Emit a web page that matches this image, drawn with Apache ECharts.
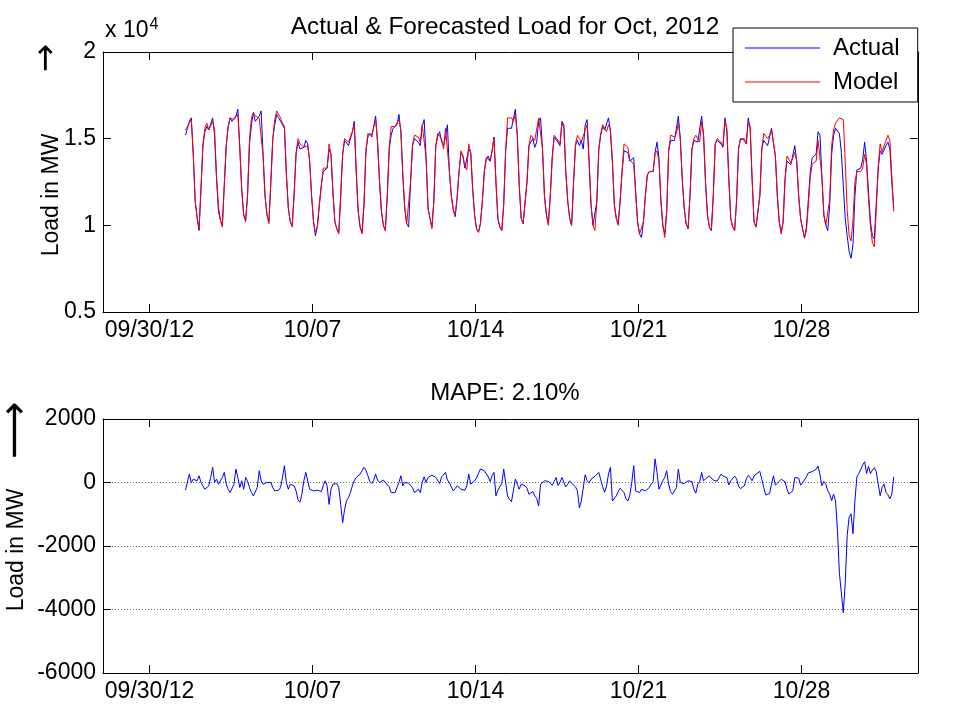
<!DOCTYPE html>
<html>
<head>
<meta charset="utf-8">
<script src="https://cdn.jsdelivr.net/npm/echarts@6/dist/echarts.min.js"></script>
<style>
  html, body { margin: 0; padding: 0; background: #fff; }
  #chart { width: 957px; height: 716px; }
</style>
</head>
<body>
<div id="chart"></div>
<script>
// Two-hourly samples, first one at Oct 1 2012 13:00 (x in days since Sep 30 00:00)
const firstSampleDay = 1 + 13 / 24;
const stepDays = 2 / 24;

// Actual load, MW
const actualLoad = [
  15200, 15600, 16000, 16200, 14100, 11400,
  10400, 9700, 12100, 14600, 15400, 15700, 15500, 15600, 16200, 15200, 12700, 10800,
  10300, 10000, 12300, 14600, 15700, 16200, 16000, 15900, 16300, 16700, 14400, 12100,
  10600, 10300, 11700, 14700, 15800, 16500, 16000, 16100, 16300, 16600, 14100, 11700,
  10600, 10200, 12500, 15000, 15800, 16400, 16200, 16000, 15800, 15600, 12900, 11000,
  10200, 10000, 11800, 14100, 14800, 14400, 14300, 14500, 14900, 14700, 13700, 11700,
  10200, 9400, 10000, 11200, 12300, 13100, 13200, 13300, 14400, 14100, 11900, 10200,
  9800, 9600, 11700, 14100, 14900, 14800, 14600, 14500, 15400, 16000, 13100, 10800,
  9900, 9600, 11200, 14300, 15100, 15300, 15100, 15200, 16300, 14800, 12500, 10800,
  10000, 9700, 11700, 14400, 15200, 15600, 15600, 15800, 16400, 15400, 12900, 11000,
  10100, 9900, 12500, 14600, 15000, 14900, 14800, 14600, 15700, 16100, 13900, 11000,
  10400, 9900, 11400, 14600, 15100, 15400, 14800, 14600, 15100, 15800, 13100, 11700,
  10900, 10500, 11600, 13100, 14200, 14000, 13300, 13200, 14400, 14200, 12100, 10600,
  9800, 9600, 10100, 11400, 13100, 13800, 14000, 13700, 14300, 15100, 12500, 10400,
  9900, 9700, 11200, 14300, 15600, 15700, 15600, 15700, 16700, 15200, 12300, 10400,
  10100, 10000, 12500, 14600, 14800, 15000, 14500, 14800, 16000, 16200, 14400, 11700,
  10600, 10100, 11700, 13900, 15100, 15100, 14800, 14600, 16000, 15800, 13100, 11400,
  10400, 10000, 12500, 14600, 14900, 14600, 14900, 14400, 15800, 16100, 13700, 11200,
  10000, 9900, 11400, 14400, 15200, 15700, 15500, 15500, 16200, 15400, 13700, 11200,
  10400, 10100, 11400, 13100, 14300, 14400, 14200, 13700, 13600, 13900, 11900, 10200,
  9500, 9300, 10200, 11700, 12900, 13100, 13000, 13100, 14200, 14800, 13900, 11400,
  10000, 9500, 10800, 14300, 14900, 15000, 14900, 14800, 16300, 15000, 12700, 11000,
  10100, 9800, 11700, 14400, 14900, 15000, 14800, 14900, 16300, 15200, 12500, 10600,
  9900, 9700, 11700, 14700, 14900, 15000, 14700, 14500, 16200, 15400, 12700, 10400,
  9900, 9700, 11400, 14400, 15000, 15000, 14900, 14700, 16200, 15600, 12700, 10200,
  9900, 9800, 11700, 14400, 14900, 14900, 14600, 15100, 15600, 15500, 14000, 11700,
  10200, 9600, 10200, 12700, 13700, 13600, 13500, 13400, 14600, 13700, 11700, 10400,
  9800, 9300, 9900, 11500, 13100, 13900, 14000, 14100, 15400, 15200, 12700, 10600,
  10000, 9700, 11200, 14100, 15200, 15600, 15500, 15300, 14200, 12300, 10400, 9400,
  8500, 8100, 8900, 11700, 13200, 13300, 13300, 13800, 14800, 13700, 11900, 10200,
  9400, 9200, 11300, 13300, 14300, 14100, 14200, 14600, 14800, 14400, 12500, 11000
];

// Forecast model load, MW
const modelLoad = [
  15500, 15700, 15900, 16100, 14200, 11400,
  10500, 9800, 12100, 14700, 15600, 15900, 15500, 15500, 16000, 15500, 12800, 11100,
  10300, 9900, 12300, 14600, 15700, 16200, 16100, 16100, 16200, 16400, 14500, 12000,
  10600, 10200, 11800, 15000, 16200, 16500, 16300, 16200, 16200, 16300, 14000, 11700,
  10600, 10100, 12500, 15000, 16100, 16600, 16500, 16200, 15900, 15700, 13000, 11000,
  10200, 9900, 11800, 14200, 15000, 14700, 14600, 14500, 14500, 14600, 13700, 11700,
  10200, 9600, 9900, 11200, 12300, 13300, 13200, 13300, 14700, 14100, 11900, 10200,
  9800, 9500, 11700, 14100, 15000, 15100, 14800, 14700, 15400, 15800, 13100, 10800,
  9900, 9500, 11200, 14300, 15300, 15400, 15200, 15200, 16100, 14800, 12500, 10800,
  10000, 9700, 11700, 14500, 15700, 15800, 15700, 15800, 16100, 15500, 12900, 11000,
  10100, 10000, 12500, 14600, 15200, 15200, 15100, 14800, 15800, 15900, 13900, 11000,
  10400, 9800, 11400, 14600, 15300, 15400, 15000, 14400, 15600, 15700, 13100, 11700,
  10900, 10600, 11600, 13100, 14300, 14000, 13400, 13200, 14700, 14200, 12100, 10600,
  9800, 9600, 10100, 11400, 13100, 13900, 14000, 13700, 14300, 15000, 12500, 10400,
  9900, 9700, 11200, 14300, 16200, 16300, 16200, 16000, 16400, 15200, 12300, 10400,
  10100, 10000, 12500, 14600, 15200, 15300, 14900, 15000, 16200, 16300, 14400, 11700,
  10600, 10000, 11700, 13900, 15200, 15100, 14900, 14700, 15900, 15600, 13100, 11400,
  10400, 10000, 12500, 14700, 15200, 15000, 14800, 14800, 15500, 15800, 13700, 11200,
  10000, 9700, 11400, 14400, 15300, 15800, 15600, 15400, 15800, 15500, 13700, 11200,
  10400, 10000, 11400, 13100, 14700, 14700, 14500, 13800, 13900, 13500, 11900, 10200,
  9500, 9600, 10200, 11700, 12900, 13100, 13000, 13100, 14100, 14300, 13700, 11500,
  10000, 9300, 10800, 14300, 15200, 15300, 15100, 15300, 15900, 15000, 12700, 11000,
  10100, 9800, 11700, 14400, 15000, 15200, 15000, 14800, 16000, 15200, 12500, 10600,
  9900, 9700, 11700, 14700, 15000, 15100, 14800, 14600, 16000, 15600, 12700, 10400,
  9900, 9700, 11400, 14400, 15000, 15100, 15000, 14700, 15900, 15700, 12700, 10200,
  9900, 9900, 11700, 14400, 15300, 15400, 15000, 15200, 15500, 15500, 14000, 11700,
  10200, 9500, 10200, 12700, 14000, 13900, 13600, 13700, 14200, 13700, 11700, 10400,
  9800, 9250, 9700, 11200, 12800, 13550, 13650, 13700, 14900, 14950, 12800, 10570,
  10000, 9900, 11500, 14600, 15500, 15900, 16000, 16200, 16300, 16100, 13700, 10900,
  9400, 9100, 10300, 12500, 13100, 13200, 13100, 13300, 14100, 13500, 11500, 9950,
  9000, 8750, 10900, 13350, 14700, 14250, 14250, 14900, 15200, 14900, 12850, 10800
];

// Forecast error (actual minus model), MW
const loadError = [
  -240, -265, 265, 0, 106, 159, 53, 212, 0, -53,
  -212, -265, -106, 159, 477, 0, 106, -53, 53, 159,
  318, -53, -212, -318, -265, -53, 424, 159, -159, 53,
  -212, 159, 53, -159, -318, -424, -371, -159, 371, 53,
  -53, -106, 0, 53, 0, -159, -265, -265, -244, -159,
  159, 530, 0, -212, -53, 0, -106, -265, -550, -620,
  -371, 53, 318, 371, -212, -265, -265, -212, -244, -286,
  -286, -106, 53, -106, -689, -212, -53, 0, -32, -159,
  -689, -1272, -848, -583, -477, -318, -106, 53, 159, 138,
  265, 244, 477, 392, 212, 32, -32, 74, 265, 74,
  0, 53, 74, 0, 0, -138, -318, -307, -318, -286,
  0, 212, -106, 0, 0, -21, 0, -159, -318, -265,
  -212, -318, 0, 180, 0, 159, 159, 233, 244, 159,
  106, -32, 180, 180, 318, 74, 0, -138, -265, -191,
  -106, -138, -212, -265, -244, -106, 265, -53, -53, 53,
  138, 286, 424, 445, 371, 318, 180, 32, 212, 318,
  -424, -244, -138, -32, 424, 0, -424, -530, -604, -636,
  106, -53, -212, -53, -32, -106, -180, -371, -424, -286,
  -424, -500, -742, -53, 0, 53, 95, 32, 53, -85,
  32, 159, -95, 0, 159, 0, -138, -53, 53, -21,
  32, -138, -265, -795, -583, -583, 244, 53, -11, 106,
  159, 191, 233, 318, 265, -138, -307, -106, 265, 477,
  -583, -530, -424, -286, -180, -159, -318, -509, -583, -392,
  0, 530, -265, -265, -318, -212, -159, -265, -265, -159,
  -53, 21, 742, 318, -212, -212, 53, 159, 371, -53,
  -286, -371, -318, -159, 424, 0, 0, -32, 0, 53,
  64, 32, -212, -339, -53, 21, 318, 53, 117, 170,
  212, 138, 74, 53, 42, 95, 265, 201, 170, 159,
  -74, 53, 53, 201, 117, -117, -191, -170, -106, 106,
  223, 159, 53, 201, 265, 318, 350, 106, -159, -392,
  -403, -350, -53, 212, -85, -21, -53, 104, 135, 21,
  -208, -364, -364, -260, 156, 208, 135, -83, -10, 52,
  177, 302, 281, 343, 364, 416, 520, 239, -104, 31,
  -52, -260, -364, -572, -364, -572, -1508, -2860, -2860, -4100,
  -3172, -1664, -1092, -988, -1612, -572, 177, 281, 260, 551,
  655, 281, 510, 281, 385, 468, 343, -52, -416, -156,
  -52, -312, -385, -520, -364, 177
];

// Week ticks (days since Sep 30) and their labels
const weekTicks = [0, 7, 14, 21, 28];
const weekLabels = ['09/30/12', '10/07', '10/14', '10/21', '10/28'];
const xRange = [-2, 33];

const FONT = 'Liberation Sans, Arial, Helvetica, sans-serif';
const FS = 23;

function toPairs(values) {
  return values.map((v, i) => [firstSampleDay + i * stepDays, v]);
}

function tickLabel(v) {
  const i = weekTicks.indexOf(Math.round(v));
  return i >= 0 ? weekLabels[i] : '';
}

function xAxes(gridIndex) {
  const base = {
    type: 'value', gridIndex: gridIndex, min: xRange[0], max: xRange[1],
    splitLine: { show: false },
    axisLine: { show: true, onZero: false, lineStyle: { color: '#000', width: 1 } },
    axisTick: { show: true, inside: true, length: 8, customValues: weekTicks, lineStyle: { color: '#000' } }
  };
  return [
    Object.assign({}, base, {
      position: 'bottom',
      axisLabel: { show: true, customValues: weekTicks, formatter: tickLabel, color: '#000',
        fontFamily: FONT, fontSize: FS, margin: 7, showMinLabel: true, showMaxLabel: true }
    }),
    Object.assign({}, base, { position: 'top', axisLabel: { show: false } })
  ];
}

function yAxes(gridIndex, min, max, interval, fmt, grid) {
  const base = {
    type: 'value', gridIndex: gridIndex, min: min, max: max, interval: interval,
    axisLine: { show: true, onZero: false, lineStyle: { color: '#000', width: 1 } },
    axisTick: { show: true, inside: true, length: 8, lineStyle: { color: '#000' } }
  };
  return [
    Object.assign({}, base, {
      position: 'left',
      splitLine: grid ? { show: true, lineStyle: { color: '#6e6e6e', type: [1, 2], width: 1 } } : { show: false },
      axisLabel: { show: true, formatter: fmt, color: '#000', fontFamily: FONT, fontSize: FS, margin: 7 }
    }),
    Object.assign({}, base, { position: 'right', splitLine: { show: false }, axisLabel: { show: false } })
  ];
}

const chart = echarts.init(document.getElementById('chart'), null, { renderer: 'canvas' });

const option = {
  animation: false,
  backgroundColor: '#fff',
  grid: [
    { left: 103, top: 52, width: 815, height: 260 },
    { left: 103, top: 419, width: 815, height: 254 }
  ],
  xAxis: xAxes(0).concat(xAxes(1)),
  yAxis: yAxes(0, 5000, 20000, 5000, v => String(v / 10000), false)
    .concat(yAxes(1, -6000, 2000, 2000, v => String(v), true)),
  legend: {
    show: true, orient: 'vertical', left: 733, top: 28,
    data: ['Actual', 'Model'],
    icon: 'rect', itemWidth: 75, itemHeight: 1, itemGap: 10,
    padding: [8, 18, 8, 12],
    borderColor: '#000', borderWidth: 1, backgroundColor: '#fff',
    textStyle: { color: '#000', fontFamily: FONT, fontSize: 24, padding: [0, 0, 0, 8] }
  },
  series: [
    { name: 'Actual', type: 'line', xAxisIndex: 0, yAxisIndex: 0, data: toPairs(actualLoad),
      symbol: 'none', lineStyle: { color: '#0000ff', width: 1 }, itemStyle: { color: '#0000ff' } },
    { name: 'Model', type: 'line', xAxisIndex: 0, yAxisIndex: 0, data: toPairs(modelLoad),
      symbol: 'none', lineStyle: { color: '#ff0000', width: 1 }, itemStyle: { color: '#ff0000' } },
    { name: 'Error', type: 'line', xAxisIndex: 2, yAxisIndex: 2, data: toPairs(loadError),
      symbol: 'none', lineStyle: { color: '#0000ff', width: 1 }, itemStyle: { color: '#0000ff' } }
  ],
  graphic: [
    { type: 'text', x: 505, y: 27, style: { text: 'Actual & Forecasted Load for Oct, 2012',
      font: '24.4px ' + FONT, fill: '#000', textAlign: 'center', textVerticalAlign: 'middle' } },
    { type: 'text', x: 105, y: 31, style: { text: 'x 10{sup|4}', font: FS + 'px ' + FONT, fill: '#000',
      textVerticalAlign: 'middle', rich: { sup: { fontSize: 16, fontFamily: FONT, verticalAlign: 'top', padding: [0, 0, 12, 1] } } } },
    { type: 'text', x: 505, y: 393, style: { text: 'MAPE: 2.10%',
      font: '24px ' + FONT, fill: '#000', textAlign: 'center', textVerticalAlign: 'middle' } },
    { type: 'text', x: 52, y: 195, rotation: Math.PI / 2, style: { text: 'Load in MW',
      font: FS + 'px ' + FONT, fill: '#000', textAlign: 'center', textVerticalAlign: 'middle' } },
    { type: 'text', x: 47, y: 58, rotation: Math.PI / 2, style: { text: '\u2192',
      font: '34px DejaVu Sans', fill: '#000', textAlign: 'center', textVerticalAlign: 'middle' } },
    { type: 'text', x: 17, y: 550, rotation: Math.PI / 2, style: { text: 'Load in MW',
      font: FS + 'px ' + FONT, fill: '#000', textAlign: 'center', textVerticalAlign: 'middle' } },
    { type: 'text', x: 17, y: 430, rotation: Math.PI / 2, style: { text: '\u27F6',
      font: '40px DejaVu Sans', fill: '#000', textAlign: 'center', textVerticalAlign: 'middle' } }
  ]
};

chart.setOption(option);
</script>
</body>
</html>
